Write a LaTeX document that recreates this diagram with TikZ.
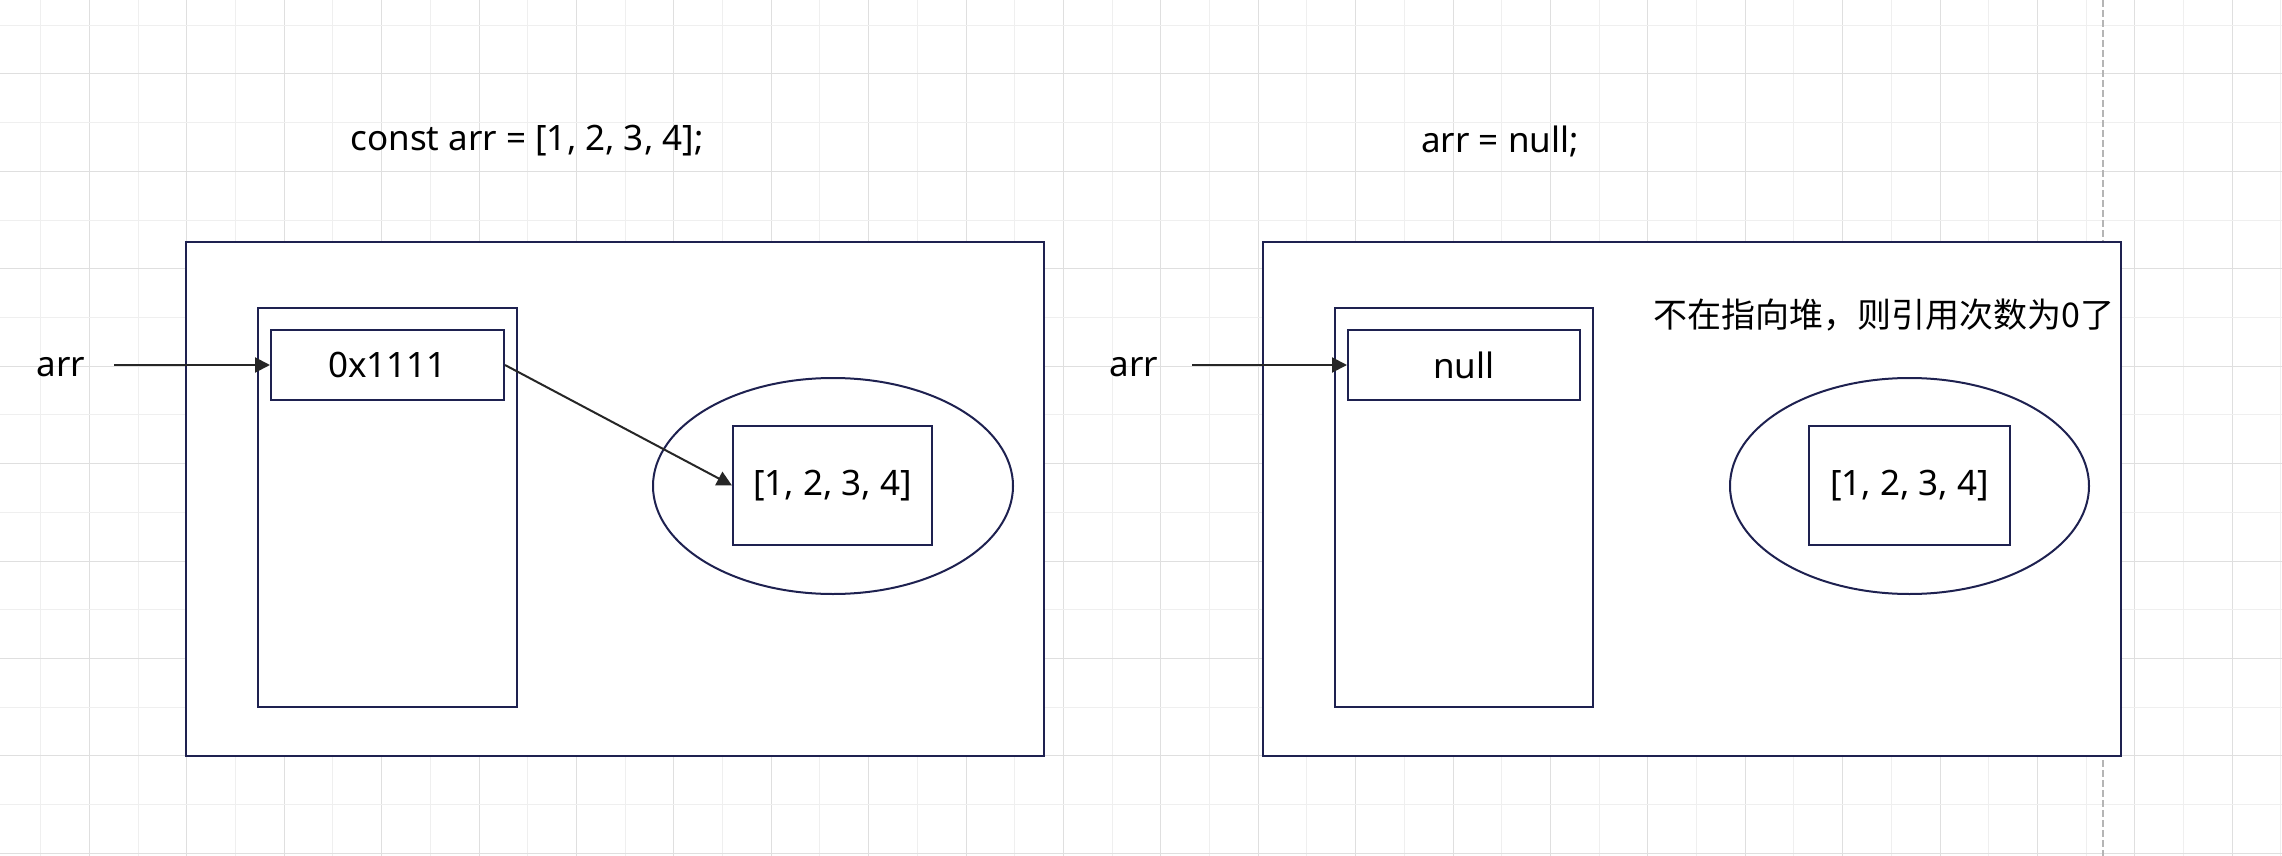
\documentclass[tikz,border=0pt]{standalone}
\usepackage{fontspec}
\setmainfont{Noto Sans}
\newfontfamily\cjk{Noto Sans CJK SC}
\usetikzlibrary{shapes.geometric,arrows.meta}
\definecolor{edge}{HTML}{1E2150}
\definecolor{gridlo}{HTML}{EFEFEF}
\definecolor{gridhi}{HTML}{DFDFDF}
\definecolor{guide}{HTML}{B5B5B5}

\begin{document}
\begin{tikzpicture}[x=0.5pt,y=-0.5pt,
    txt/.style={inner sep=0pt,font=\fontsize{17.5pt}{20pt}\selectfont},
    box/.style={draw=edge,fill=white,line width=1pt,inner sep=0pt,font=\fontsize{17.5pt}{20pt}\selectfont},
    heap/.style={ellipse,draw=edge,fill=white,line width=1pt,inner sep=0pt},
    ptr/.style={draw=black!85,line width=1pt,-{Triangle[length=7.5pt,width=7.5pt]}}]
            \useasboundingbox (0,0) rectangle (2282,856);
            % background grid
            \foreach \k in {0,...,46} {
                \pgfmathsetmacro{\gx}{40.7+48.7*\k}
                \ifodd\k \draw[gridhi,line width=.5pt] (\gx,0) -- (\gx,856);
                \else \draw[gridlo,line width=.5pt] (\gx,0) -- (\gx,856); \fi
            }
            \foreach \k in {0,...,17} {
                \pgfmathsetmacro{\gy}{25.3+48.7*\k}
                \ifodd\k \draw[gridhi,line width=.5pt] (0,\gy) -- (2282,\gy);
                \else \draw[gridlo,line width=.5pt] (0,\gy) -- (2282,\gy); \fi
            }
            \draw[guide,line width=.6pt,dash pattern=on 3.5pt off 1.5pt] (2103,0) -- (2103,856);
            % before
            \node[txt] (codeL) at (527,141) {const arr = [1, 2, 3, 4];};
            \node[box,minimum width=429pt,minimum height=257pt] (frameL) at (615,499) {};
            \node[box,minimum width=129.5pt,minimum height=199.5pt] (stackL) at (387.5,507.5) {};
            \node[box,minimum width=116.5pt,minimum height=35pt] (addrL) at (387.5,365) {0x1111};
            \node[heap,minimum width=180pt,minimum height=108pt] (heapL) at (833,486) {};
            \node[box,minimum width=99.5pt,minimum height=59.5pt] (listL) at (832.5,485.5) {[1, 2, 3, 4]};
            \node[txt] (varL) at (61,367) {arr};
            \coordinate (tailL) at (114,365);
            \draw[ptr] (tailL) -- (addrL.west);
            \draw[ptr] (addrL.east) -- (listL.west);
            % after
            \node[txt] (codeR) at (1500,141) {arr = null;};
            \node[box,minimum width=429pt,minimum height=257pt] (frameR) at (1692,499) {};
            \node[box,minimum width=129pt,minimum height=199.5pt] (stackR) at (1464,507.5) {};
            \node[box,minimum width=116pt,minimum height=35pt] (addrR) at (1464,365) {null};
            \node[txt,font=\cjk\fontsize{17pt}{20pt}\selectfont] (noteR) at (1884,315) {不在指向堆，则引用次数为0了};
            \node[heap,minimum width=179.5pt,minimum height=108pt] (heapR) at (1909.5,486) {};
            \node[box,minimum width=100.5pt,minimum height=59.5pt] (listR) at (1909.5,485.5) {[1, 2, 3, 4]};
            \node[txt] (varR) at (1134,367) {arr};
            \coordinate (tailR) at (1192,365);
            \draw[ptr] (tailR) -- (addrR.west);
        \end{tikzpicture}
\end{document}
